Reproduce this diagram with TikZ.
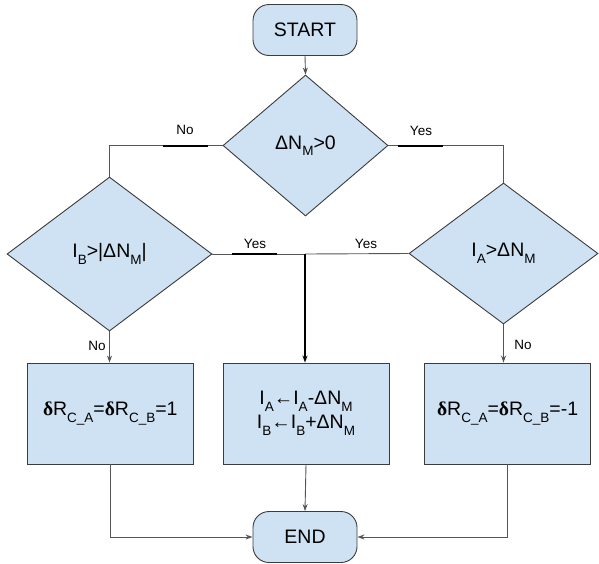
\documentclass[tikz,border=0pt]{standalone}
\usepackage{fontspec}
\setmainfont{Liberation Sans}
\newfontfamily\serifgrk{Liberation Serif}
\usetikzlibrary{shapes.geometric,arrows.meta,calc}
\definecolor{boxfill}{HTML}{CFE2F3}
\definecolor{boxline}{HTML}{3C3C3C}
\definecolor{wire}{HTML}{555555}
% lowered small text used for indices
\newcommand\idx[1]{\raisebox{-6.5pt}{\fontsize{13.5}{13.5}\selectfont #1}}
\newcommand\bdelta{{\serifgrk\bfseries δ}}
\tikzset{
  base/.style={draw=boxline, fill=boxfill, line width=0.9pt, inner sep=0pt,
               font=\fontsize{19.5}{21}\selectfont, align=center},
  terminal/.style={base, rectangle, rounded corners=16pt,
                   minimum width=104pt, minimum height=51pt},
  decision/.style={base, diamond},
  process/.style={base, rectangle, minimum width=166pt, minimum height=101pt},
  wireline/.style={draw=wire, line width=0.9pt},
  arrowline/.style={wireline, -{Stealth[length=7pt,width=5pt]}},
  thickbit/.style={draw=black, line width=2pt},
  lbl/.style={font=\fontsize{13.5}{14}\selectfont, inner sep=0pt}
}
\begin{document}
\begin{tikzpicture}[x=1pt,y=-1pt]
\useasboundingbox (0,0) rectangle (599,563);

% terminals
\node[terminal] (start) at (305,30) {START};
\node[terminal] (end) at (305,537) {END};

% decisions
\node[decision, minimum width=165pt, minimum height=141pt] (d0) at (305.5,145.5) {ΔN\idx{M}>0};
\node[decision, minimum width=205pt, minimum height=154pt] (db) at (109.5,254) {I\idx{B}>|ΔN\idx{M}|};
\node[decision, minimum width=189pt, minimum height=141pt] (da) at (503.5,253.5) {I\idx{A}>ΔN\idx{M}};

% actions
\node[process] (boxL) at (110.3,413.5) {\bdelta R\idx{C\_A}=\bdelta R\idx{C\_B}=1};
\node[process] (boxM) at (306,413.5) {I\idx{A}←I\idx{A}-ΔN\idx{M}\\[3pt]I\idx{B}←I\idx{B}+ΔN\idx{M}};
\node[process] (boxR) at (507.6,413.5) {\bdelta R\idx{C\_A}=\bdelta R\idx{C\_B}=-1};

\coordinate (join) at (305,254);

% flow
\draw[arrowline] (start.south) -- (d0.north);
\draw[wireline] (d0.west) -| (db.north);
\draw[wireline] (d0.east) -| (da.north);
\draw[wireline] (db.east) -- (join);
\draw[wireline] (da.west) -- (join);
\draw[thickbit, -{Stealth[length=7pt,width=5pt]}] (join) -- (join |- boxM.north);
\draw[arrowline] (db.south) -- (db.south |- boxL.north);
\draw[arrowline] (da.south) -- (da.south |- boxR.north);
\draw[arrowline] (boxL.south) |- (end.west);
\draw[arrowline] (boxM.south) -- (end.north);
\draw[arrowline] (boxR.south) |- (end.east);

% emphasised stretches under the branch labels
\draw[thickbit] ($(d0.west)+(-15,0)$) -- ++(-45,0);
\draw[thickbit] ($(d0.east)+(10,0)$) -- ++(45,0);
\draw[thickbit] ($(db.east)+(20,0)$) -- ++(45,0);

% branch labels
\node[lbl] at (185,130) {No};
\node[lbl] at (421,131) {Yes};
\node[lbl] at (255,244) {Yes};
\node[lbl] at (366,244) {Yes};
\node[lbl] at (97,346) {No};
\node[lbl] at (523,345) {No};
\end{tikzpicture}
\end{document}
